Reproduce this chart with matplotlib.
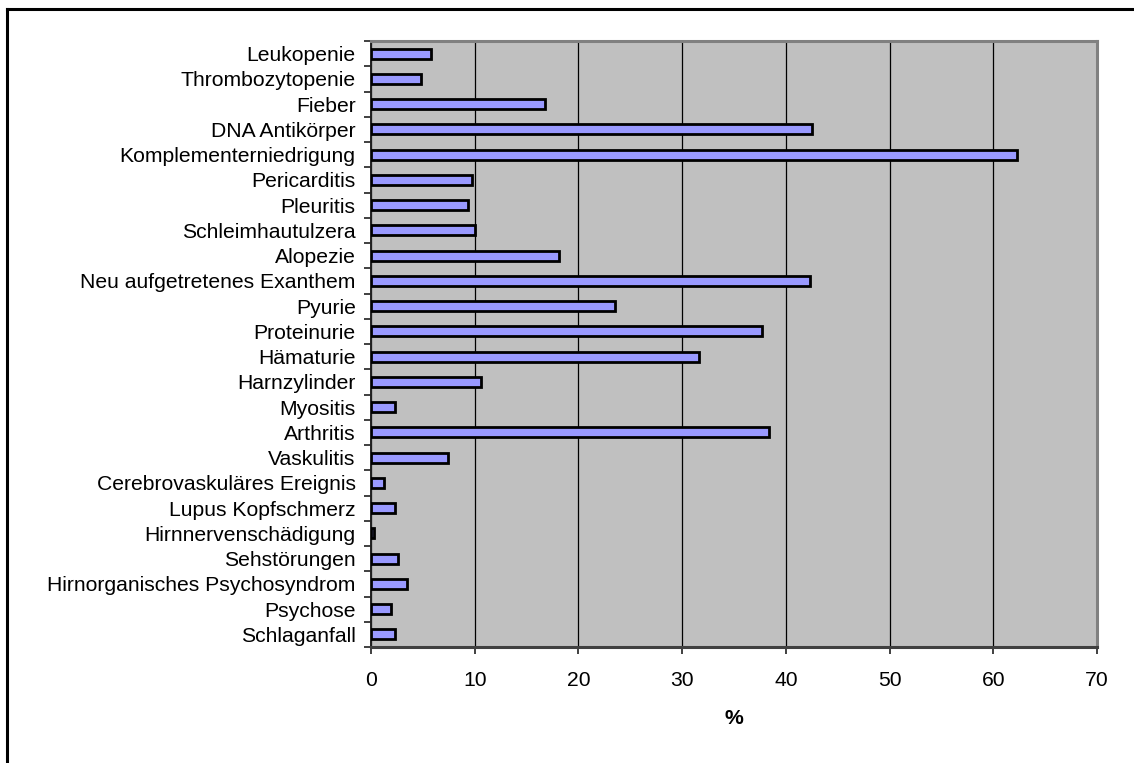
import matplotlib
matplotlib.use("Agg")
import matplotlib.pyplot as plt
from matplotlib.lines import Line2D
import numpy as np

plt.rcParams['font.family'] = ['Liberation Sans', 'DejaVu Sans']

categories = [
    "Leukopenie", "Thrombozytopenie", "Fieber", "DNA Antikörper",
    "Komplementerniedrigung", "Pericarditis", "Pleuritis", "Schleimhautulzera",
    "Alopezie", "Neu aufgetretenes Exanthem", "Pyurie", "Proteinurie",
    "Hämaturie", "Harnzylinder", "Myositis", "Arthritis", "Vaskulitis",
    "Cerebrovaskuläres Ereignis", "Lupus Kopfschmerz", "Hirnnervenschädigung",
    "Sehstörungen", "Hirnorganisches Psychosyndrom", "Psychose", "Schlaganfall",
]
percent = [
    5.8, 4.8, 16.8, 42.5, 62.3, 9.7, 9.4, 10.0, 18.1, 42.3, 23.5, 37.7,
    31.6, 10.6, 2.3, 38.4, 7.4, 1.3, 2.3, 0.3, 2.6, 3.5, 1.9, 2.3,
]
x_ticks = [0, 10, 20, 30, 40, 50, 60, 70]
x_label = "%"

W, H = 1134, 763
fig = plt.figure(figsize=(W / 100, H / 100), dpi=100)
fig.patch.set_facecolor("white")

ax = fig.add_axes([371 / W, 1 - 647 / H, (1097 - 371) / W, (647 - 41) / H])
ax.set_facecolor("#C0C0C0")

n = len(categories)
ypos = np.arange(n)
ax.barh(ypos, percent, height=0.40, color="#9999FF", edgecolor="black",
        linewidth=2.0, zorder=3)

ax.set_xlim(0, 70)
ax.set_ylim(n - 0.5, -0.5)

fs = 15.2
ax.set_xticks(x_ticks)
ax.set_xticklabels([str(t) for t in x_ticks], fontsize=fs)
ax.xaxis.grid(True, color="black", linewidth=0.9, zorder=1)
ax.set_axisbelow(True)

ax.set_yticks(ypos)
ax.set_yticklabels(categories, fontsize=fs)
ax.set_yticks(np.arange(n + 1) - 0.5, minor=True)
ax.tick_params(axis="y", which="major", length=0, pad=11)
ax.tick_params(axis="y", which="minor", length=5, width=1.2, color="#202020")
ax.tick_params(axis="x", which="major", length=5, width=1.2, color="#202020", pad=12)

ax.set_xlabel(x_label, fontsize=fs, fontweight="bold", labelpad=14)

for side in ("top", "right"):
    ax.spines[side].set_color("#808080")
    ax.spines[side].set_linewidth(2.2)
ax.spines["bottom"].set_color("#404040")
ax.spines["bottom"].set_linewidth(2.2)
ax.spines["left"].set_color("#202020")
ax.spines["left"].set_linewidth(1.4)

# outer frame around the chart (left and top edges)
fx = 6.5 / W
fy = 1 - 9 / H
fig.add_artist(Line2D([fx, fx], [0, fy], transform=fig.transFigure,
                      color="black", linewidth=2.2))
fig.add_artist(Line2D([fx, 1], [fy, fy], transform=fig.transFigure,
                      color="black", linewidth=2.2))

fig.savefig("out.png", dpi=100, facecolor="white")
